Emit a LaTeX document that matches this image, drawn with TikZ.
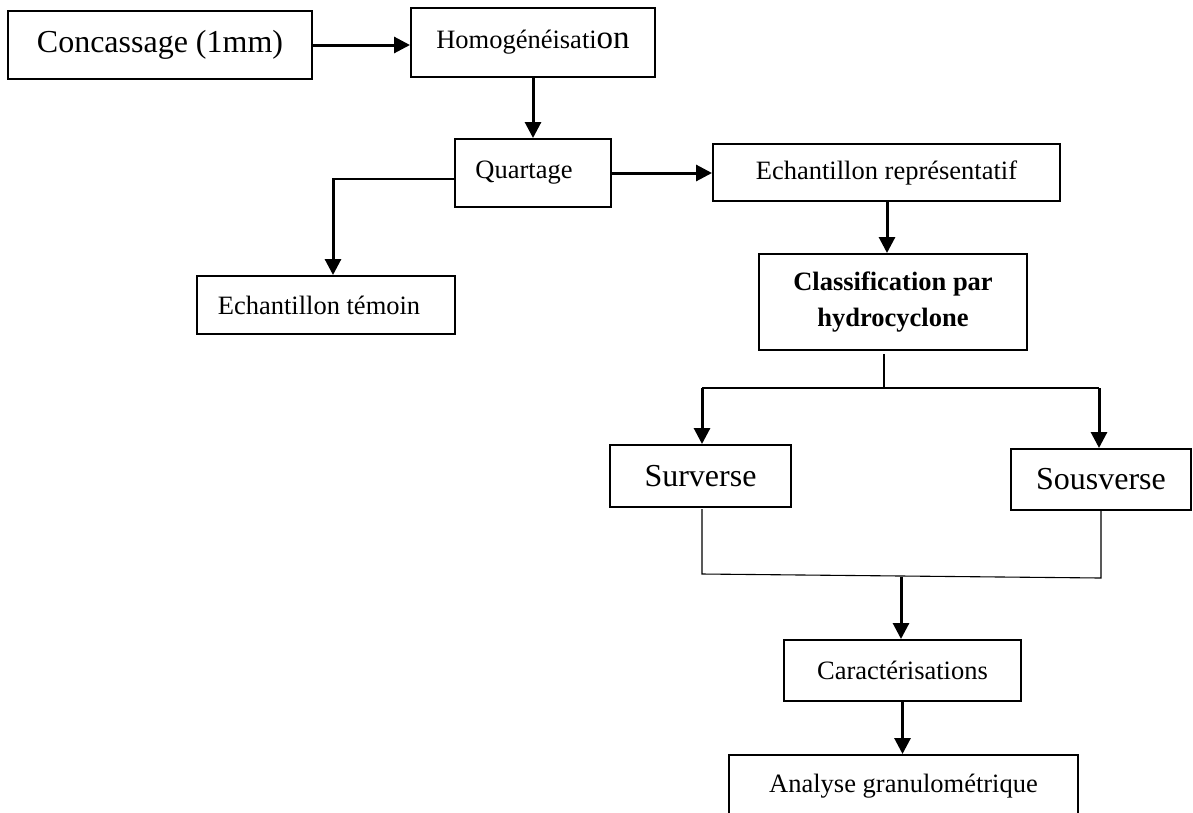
\documentclass[tikz,border=0pt]{standalone}
\usepackage{fontspec}
\setmainfont{Liberation Serif}
\usetikzlibrary{arrows.meta}
\begin{document}
\begin{tikzpicture}[x=1pt,y=-1pt,
  box/.style={draw, line width=2pt, inner sep=0pt, align=center},
  arr/.style={line width=3pt, -{Triangle[length=16pt,width=16pt]}},
  thinline/.style={line width=1.1pt},
  normal/.style={font=\fontsize{26.5}{36}\selectfont},
  big/.style={font=\fontsize{32}{38}\selectfont}]
\useasboundingbox (0,0) rectangle (1193,812);
\fill[white] (0,0) rectangle (1193,812);
% boxes
\node[box,big,minimum width=304pt,minimum height=68pt] (conc) at (160,45) {Concassage (1mm)};
\node[box,minimum width=244pt,minimum height=69pt] (homog) at (533,42.5)
  {\fontsize{26.5}{30}\selectfont Homogénéisati{\fontsize{33}{36}\selectfont on}};
\node[box,normal,minimum width=156pt,minimum height=68pt] (quart) at (533,173) {\raisebox{4pt}{Quartage}\hspace{18pt}};
\node[box,normal,minimum width=258pt,minimum height=58pt] (temoin) at (326,305) {Echantillon témoin\hspace{14pt}};
\node[box,normal,minimum width=347pt,minimum height=57pt] (rep) at (886.5,172.5) {Echantillon représentatif};
\node[box,normal,font=\fontsize{26.5}{36}\selectfont\bfseries,minimum width=268pt,minimum height=96pt] (class) at (893,302) {Classification par\\hydrocyclone};
\node[box,big,minimum width=181pt,minimum height=62pt] (surv) at (700.5,476) {Surverse};
\node[box,big,minimum width=180pt,minimum height=61pt] (sous) at (1101,479.5) {Sousverse};
\node[box,normal,minimum width=237pt,minimum height=61pt] (carac) at (902.5,670.5) {Caractérisations};
\node[box,normal,minimum width=349pt,minimum height=62pt] (anal) at (903.5,786) {Analyse granulométrique};
% coordinates
\coordinate (qt) at (333,179);
\coordinate (sp) at (884,388);
\coordinate (sl) at (702,388);
\coordinate (sr) at (1099,388);
\coordinate (bl) at (702,574);
\coordinate (br) at (1101,578);
\coordinate (jm) at (901,577);
% connectors
\draw[arr] (conc.east) -- (conc.east -| homog.west);
\draw[arr] (homog.south) -- (quart.north);
\draw[line width=2pt] ([yshift=-6pt]quart.west) -- ([xshift=-1.5pt]qt);
\draw[arr] (qt) -- (qt |- temoin.north);
\draw[arr] (quart.east) -- (quart.east -| rep.west);
\draw[arr] ([xshift=0.5pt]rep.south) -- ([xshift=0.5pt]rep.south |- class.north);
\draw[thinline] ([yshift=-3pt]class.south -| sp) -- (sp);
\draw[thinline] (sl) -- (sr);
\draw[arr] (sl) -- (sl |- surv.north);
\draw[arr] (sr) -- (sr |- sous.north);
\draw[thinline] ([yshift=-1pt]surv.south -| bl) -- (bl) -- (br) -- (sous.south -| br);
\draw[arr] (jm) -- (jm |- carac.north);
\draw[arr] (carac.south) -- (carac.south |- anal.north);
\end{tikzpicture}
\end{document}
